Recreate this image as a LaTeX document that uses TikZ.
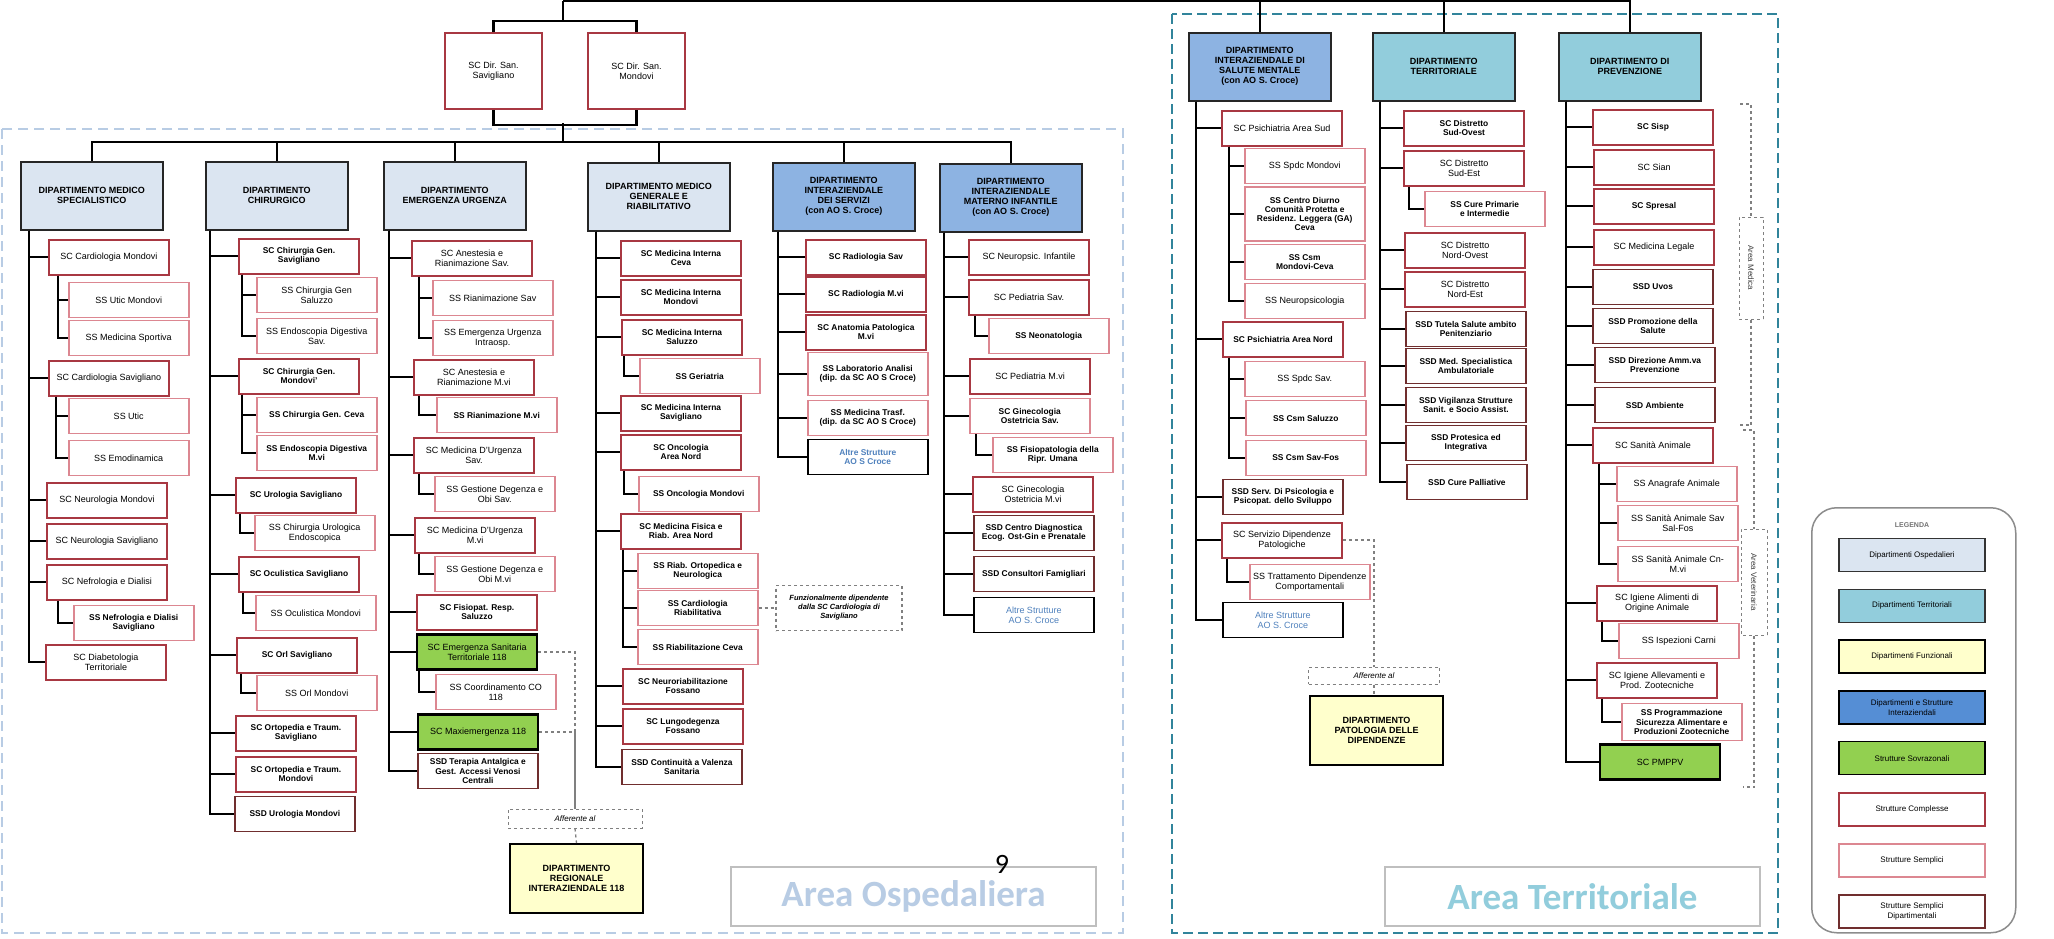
\documentclass[tikz,border=0pt]{standalone}
\usepackage{fontspec}
\usepackage{xcolor}
\setmainfont{Liberation Sans}
\newfontfamily\areafont{Carlito}
\usetikzlibrary{positioning}

\definecolor{scred}{RGB}{168,56,66}
\definecolor{sspink}{RGB}{220,135,145}
\definecolor{ssdbrown}{RGB}{112,46,46}
\definecolor{osp}{RGB}{219,229,241}
\definecolor{terr}{RGB}{146,205,220}
\definecolor{inter}{RGB}{141,179,226}
\definecolor{interleg}{RGB}{85,142,213}
\definecolor{funz}{RGB}{255,255,204}
\definecolor{sovr}{RGB}{146,208,80}
\definecolor{altre}{RGB}{79,129,189}
\definecolor{ospline}{RGB}{184,204,228}
\definecolor{terrline}{RGB}{49,132,155}
\definecolor{dashgray}{RGB}{128,128,128}

\begin{document}
\begin{tikzpicture}[
        x=1pt, y=-1pt,
        cell/.style={
            draw,
            rectangle,
            anchor=west,
            minimum width=120,
            minimum height=35,
            inner sep=2pt,
            align=center,
            fill=white,
            font=\fontsize{9}{10}\selectfont
        },
        sc/.style={cell, draw=scred, line width=2},
        ss/.style={cell, draw=sspink, line width=1.5},
        ssd/.style={cell, draw=ssdbrown, line width=1.8},
        strong/.style={font=\fontsize{8.4}{9.3}\selectfont\bfseries},
        sovrbox/.style={cell, fill=sovr, draw=black, line width=2.2},
        altrebox/.style={cell, draw=black, line width=1.5, text=altre},
        dept/.style={
            draw=black!85,
            rectangle,
            anchor=north west,
            minimum width=142,
            minimum height=68,
            line width=1.5,
            align=center,
            inner sep=2pt,
            fill=osp,
            font=\fontsize{9}{10}\selectfont\bfseries
        },
        funzbox/.style={dept, fill=funz, draw=black, line width=2, minimum width=133, minimum height=69},
        affbox/.style={
            draw=dashgray,
            dashed,
            line width=1,
            rectangle,
            minimum width=134,
            minimum height=19,
            inner sep=1pt,
            font=\fontsize{8}{9}\selectfont\itshape
        },
        notebox/.style={
            draw=dashgray,
            dashed,
            line width=1.3,
            rectangle,
            minimum width=126,
            minimum height=45,
            inner sep=2pt,
            align=center,
            font=\fontsize{7.5}{9}\selectfont\bfseries\itshape
        },
        brklabel/.style={
            draw=dashgray,
            dashed,
            line width=1,
            rectangle,
            minimum width=102,
            minimum height=24,
            text=black!75,
            font=\fontsize{8}{9}\selectfont
        },
        arealabel/.style={
            draw=black!25,
            line width=1.5,
            rectangle,
            minimum height=59,
            font=\areafont\bfseries\fontsize{37}{40}\selectfont
        },
        legitem/.style={
            draw,
            rectangle,
            minimum width=146,
            minimum height=33,
            line width=1.3,
            inner sep=2pt,
            align=center,
            font=\fontsize{8}{9.5}\selectfont
        },
        spine/.style={line width=2.4},
        twig/.style={line width=2},
        afflink/.style={dashgray, dashed, line width=1.3},
        brk/.style={dashgray, dashed, line width=1.2}
    ]
    \fill[white] (0,0) rectangle (2054,938);
    \useasboundingbox (0,0) rectangle (2054,938);

    % area frames
    \draw[ospline, dash pattern=on 10pt off 6pt, line width=2.2] (2,129) rectangle (1123,933);
    \draw[terrline, dash pattern=on 10pt off 5pt, line width=2.8] (1172,14) rectangle (1778,933);

    % direzioni sanitarie
    \node[sc, anchor=north west, minimum width=97, minimum height=76] (dirsav) at (444,32) {SC Dir. San.\\Savigliano};
    \node[sc, minimum width=97, minimum height=76, right=44pt of dirsav] (dirmon) {SC Dir. San.\\Mondovi};
    \coordinate (apex) at (563,1);
    \coordinate (hosp) at (563,142);

    % dipartimenti
    \node[dept] (dms) at (20,161) {DIPARTIMENTO MEDICO\\SPECIALISTICO};
    \node[dept] (dch) at (205,161) {DIPARTIMENTO\\CHIRURGICO};
    \node[dept] (deu) at (383,161) {DIPARTIMENTO\\EMERGENZA URGENZA};
    \node[dept] (dmg) at (587,162) {DIPARTIMENTO MEDICO\\GENERALE E\\RIABILITATIVO};
    \node[dept, fill=inter] (dis) at (772,162) {DIPARTIMENTO\\INTERAZIENDALE\\DEI SERVIZI\\(con AO S. Croce)};
    \node[dept, fill=inter] (dmi) at (939,163) {DIPARTIMENTO\\INTERAZIENDALE\\MATERNO INFANTILE\\(con AO S. Croce)};
    \node[dept, fill=inter] (dsm) at (1188,32) {DIPARTIMENTO\\INTERAZIENDALE DI\\SALUTE MENTALE\\(con AO S. Croce)};
    \node[dept, fill=terr] (dter) at (1372,32) {DIPARTIMENTO\\TERRITORIALE};
    \node[dept, fill=terr] (dprev) at (1558,32) {DIPARTIMENTO DI\\PREVENZIONE};

    % medico specialistico
    \node[sc] (cardmon) at (48,257) {SC Cardiologia Mondovi};
    \node[ss] (uticmon) at (68,300) {SS Utic Mondovi};
    \node[ss] (medsport) at (68,338) {SS Medicina Sportiva};
    \node[sc] (cardsav) at (48,378) {SC Cardiologia Savigliano};
    \node[ss] (utic) at (68,416) {SS Utic};
    \node[ss] (emodin) at (68,458) {SS Emodinamica};
    \node[sc] (neuromon) at (46,500) {SC Neurologia Mondovi};
    \node[sc] (neurosav) at (46,541) {SC Neurologia Savigliano};
    \node[sc] (nefro) at (46,582) {SC Nefrologia e Dialisi};
    \node[ss, strong] (nefrosav) at (73,623) {SS Nefrologia e Dialisi\\Savigliano};
    \node[sc] (diabet) at (45,662) {SC Diabetologia\\Territoriale};

    % chirurgico
    \node[sc, strong] (chgsav) at (238,256) {SC Chirurgia Gen.\\Savigliano};
    \node[ss] (chsal) at (256,295) {SS Chirurgia Gen\\Saluzzo};
    \node[ss] (endsav) at (256,336) {SS Endoscopia Digestiva\\Sav.};
    \node[sc, strong] (chgmon) at (238,376) {SC Chirurgia Gen.\\Mondovi'};
    \node[ss, strong] (chceva) at (256,415) {SS Chirurgia Gen. Ceva};
    \node[ss, strong] (endmvi) at (256,453) {SS Endoscopia Digestiva\\M.vi};
    \node[sc, strong] (urosav) at (235,495) {SC Urologia Savigliano};
    \node[ss] (urendo) at (254,533) {SS Chirurgia Urologica\\Endoscopica};
    \node[sc, strong] (oculsav) at (238,574) {SC Oculistica Savigliano};
    \node[ss] (oculmon) at (255,613) {SS Oculistica Mondovi};
    \node[sc, strong] (orlsav) at (236,655) {SC Orl Savigliano};
    \node[ss] (orlmon) at (256,693) {SS Orl Mondovi};
    \node[sc, strong] (ortsav) at (235,733) {SC Ortopedia e Traum.\\Savigliano};
    \node[sc, strong] (ortmon) at (235,774) {SC Ortopedia e Traum.\\Mondovi};
    \node[ssd, strong] (uromon) at (234,814) {SSD Urologia Mondovi};

    % emergenza urgenza
    \node[sc] (anesav) at (411,258) {SC Anestesia e\\Rianimazione Sav.};
    \node[ss] (rianisav) at (432,298) {SS Rianimazione Sav};
    \node[ss] (emurg) at (432,338) {SS Emergenza Urgenza\\Intraosp.};
    \node[sc] (anemvi) at (413,377) {SC Anestesia e\\Rianimazione M.vi};
    \node[ss, strong] (rianimvi) at (436,415) {SS Rianimazione M.vi};
    \node[sc] (murgsav) at (413,455) {SC Medicina D'Urgenza\\Sav.};
    \node[ss] (gestsav) at (434,494) {SS Gestione Degenza e\\Obi Sav.};
    \node[sc] (murgmvi) at (414,535) {SC Medicina D'Urgenza\\M.vi};
    \node[ss] (gestmvi) at (434,574) {SS Gestione Degenza e\\Obi M.vi};
    \node[sc, strong] (fisiopat) at (416,612) {SC Fisiopat. Resp.\\Saluzzo};
    \node[sovrbox] (emst) at (416,652) {SC Emergenza Sanitaria\\Territoriale 118};
    \node[ss] (coord) at (435,692) {SS Coordinamento CO\\118};
    \node[sovrbox] (maxi) at (417,732) {SC Maxiemergenza 118};
    \node[ssd, strong] (terap) at (417,771) {SSD Terapia Antalgica e\\Gest. Accessi Venosi\\Centrali};
    \node[affbox] (aff118) at (575,818.5) {Afferente al};
    \node[funzbox] (dr118) at (509,843) {DIPARTIMENTO\\REGIONALE\\INTERAZIENDALE 118};

    % medico generale e riabilitativo
    \node[sc, strong] (mice) at (620,258) {SC Medicina Interna\\Ceva};
    \node[sc, strong] (mimon) at (620,297) {SC Medicina Interna\\Mondovi};
    \node[sc, strong] (misal) at (621,337) {SC Medicina Interna\\Saluzzo};
    \node[ss, strong] (geri) at (639,376) {SS Geriatria};
    \node[sc, strong] (misav) at (620,413) {SC Medicina Interna\\Savigliano};
    \node[sc, strong] (onco) at (620,452) {SC Oncologia\\Area Nord};
    \node[ss, strong] (oncomon) at (638,494) {SS Oncologia Mondovi};
    \node[sc, strong] (fisica) at (620,531) {SC Medicina Fisica e\\Riab. Area Nord};
    \node[ss, strong] (riabort) at (637,571) {SS Riab. Ortopedica e\\Neurologica};
    \node[ss, strong] (cardriab) at (637,608) {SS Cardiologia\\Riabilitativa};
    \node[ss, strong] (riabceva) at (637,647) {SS Riabilitazione Ceva};
    \node[sc, strong] (neuroriab) at (622,686) {SC Neuroriabilitazione\\Fossano};
    \node[sc, strong] (lungo) at (622,726) {SC Lungodegenza\\Fossano};
    \node[ssd, strong] (contin) at (621,767) {SSD Continuità a Valenza\\Sanitaria};
    \node[notebox] (funznote) at (839,608) {Funzionalmente dipendente\\dalla SC Cardiologia di\\Savigliano};

    % interaziendale dei servizi
    \node[sc, strong] (radsav) at (805,257) {SC Radiologia Sav};
    \node[sc, strong] (radmvi) at (805,294) {SC Radiologia M.vi};
    \node[sc, strong] (anapat) at (805,332) {SC Anatomia Patologica\\M.vi};
    \node[ss, strong, minimum height=43] (labo) at (807,374) {SS Laboratorio Analisi\\(dip. da SC AO S Croce)};
    \node[ss, strong] (trasf) at (807,418) {SS Medicina Trasf.\\(dip. da SC AO S Croce)};
    \node[altrebox, strong] (altreis) at (807,457) {Altre Strutture\\AO S Croce};

    % materno infantile
    \node[sc] (neuropsi) at (968,257) {SC Neuropsic. Infantile};
    \node[sc] (pedsav) at (968,297) {SC Pediatria Sav.};
    \node[ss, strong] (neonat) at (988,336) {SS Neonatologia};
    \node[sc] (pedmvi) at (969,376) {SC Pediatria M.vi};
    \node[ss, strong] (ginsav) at (969,416) {SC Ginecologia\\Ostetricia Sav.};
    \node[ss, strong] (fisioripr) at (992,455) {SS Fisiopatologia della\\Ripr. Umana};
    \node[sc] (ginmvi) at (972,494) {SC Ginecologia\\Ostetricia M.vi};
    \node[ssd, strong] (ecog) at (973,533) {SSD Centro Diagnostica\\Ecog. Ost-Gin e Prenatale};
    \node[ssd, strong] (consult) at (973,574) {SSD Consultori Famigliari};
    \node[altrebox] (altremi) at (973,615) {Altre Strutture\\AO S. Croce};

    % salute mentale
    \node[sc] (psisud) at (1221,128) {SC Psichiatria Area Sud};
    \node[ss] (spdcmon) at (1244,166) {SS Spdc Mondovi};
    \node[ss, strong, minimum height=54] (diurno) at (1244,214) {SS Centro Diurno\\Comunità Protetta e\\Residenz. Leggera (GA)\\Ceva};
    \node[ss, strong] (csmceva) at (1244,262) {SS Csm\\Mondovi-Ceva};
    \node[ss] (neuropsic) at (1244,301) {SS Neuropsicologia};
    \node[sc, strong] (psinord) at (1222,339) {SC Psichiatria Area Nord};
    \node[ss] (spdcsav) at (1244,379) {SS Spdc Sav.};
    \node[ss, strong] (csmsal) at (1245,418) {SS Csm Saluzzo};
    \node[ss, strong] (csmfos) at (1245,458) {SS Csm Sav-Fos};
    \node[ssd, strong] (psicosvil) at (1222,497) {SSD Serv. Di Psicologia e\\Psicopat. dello Sviluppo};
    \node[sc] (serdip) at (1221,540) {SC Servizio Dipendenze\\Patologiche};
    \node[ss] (tratt) at (1249,582) {SS Trattamento Dipendenze\\Comportamentali};
    \node[altrebox] (altresm) at (1222,620) {Altre Strutture\\AO S. Croce};
    \node[affbox, minimum width=131, minimum height=17] (affdip) at (1374,675.5) {Afferente al};
    \node[funzbox] (dpd) at (1309,695) {DIPARTIMENTO\\PATOLOGIA DELLE\\DIPENDENZE};

    % territoriale
    \node[sc, strong] (sudovest) at (1403,128) {SC Distretto\\Sud-Ovest};
    \node[sc] (sudest) at (1403,168) {SC Distretto\\Sud-Est};
    \node[ss, strong] (cure) at (1424,209) {SS Cure Primarie\\e Intermedie};
    \node[sc] (nordovest) at (1404,250) {SC Distretto\\Nord-Ovest};
    \node[sc] (nordest) at (1404,289) {SC Distretto\\Nord-Est};
    \node[ssd, strong] (tutela) at (1405,329) {SSD Tutela Salute ambito\\Penitenziario};
    \node[ssd, strong] (medspec) at (1405,366) {SSD Med. Specialistica\\Ambulatoriale};
    \node[ssd, strong] (vigil) at (1405,405) {SSD Vigilanza Strutture\\Sanit. e Socio Assist.};
    \node[ssd, strong] (protes) at (1405,443) {SSD Protesica ed\\Integrativa};
    \node[ssd, strong] (pallia) at (1406,482) {SSD Cure Palliative};

    % prevenzione
    \node[sc, strong] (sisp) at (1592,127) {SC Sisp};
    \node[sc] (sian) at (1593,167) {SC Sian};
    \node[sc, strong] (spresal) at (1593,206) {SC Spresal};
    \node[sc] (medleg) at (1593,247) {SC Medicina Legale};
    \node[ssd, strong] (uvos) at (1592,287) {SSD Uvos};
    \node[ssd, strong] (promo) at (1592,326) {SSD Promozione della\\Salute};
    \node[ssd, strong] (direz) at (1594,365) {SSD Direzione Amm.va\\Prevenzione};
    \node[ssd, strong] (ambiente) at (1594,405) {SSD Ambiente};
    \node[sc] (sanan) at (1592,445) {SC Sanità Animale};
    \node[ss] (anagrafe) at (1616,484) {SS Anagrafe Animale};
    \node[ss] (sanfos) at (1617,523) {SS Sanità Animale Sav\\Sal-Fos};
    \node[ss] (sancn) at (1617,564) {SS Sanità Animale Cn-\\M.vi};
    \node[sc] (igalim) at (1596,603) {SC Igiene Alimenti di\\Origine Animale};
    \node[ss] (ispez) at (1618,641) {SS Ispezioni Carni};
    \node[sc] (igall) at (1596,680) {SC Igiene Allevamenti e\\Prod. Zootecniche};
    \node[ss, strong, minimum height=37] (progr) at (1621,722) {SS Programmazione\\Sicurezza Alimentare e\\Produzioni Zootecniche};
    \node[sovrbox] (pmppv) at (1599,762) {SC PMPPV};

    % area brackets
    \node[brklabel, rotate=-90] (amed) at (1751,268) {Area Medica};
    \node[brklabel, rotate=-90, minimum width=106, minimum height=26] (avet) at (1754,582) {Area Veterinaria};
    \draw[brk] (1740,104) -- (1751,104) -- (amed.west);
    \draw[brk] (amed.east) -- (1751,425) -- (1740,425);
    \draw[brk] (1743,430) -- (1754,430) -- (avet.west);
    \draw[brk] (avet.east) -- (1754,787) -- (1743,787);

    % top connectors
    \draw[spine] (apex) -| (dprev.north);
    \draw[spine] (apex) -- ++(0,20);
    \draw[spine] (dirsav.north) -- ++(0,-11) -| (dirmon.north);
    \draw[spine] (dsm.north) -- (dsm.north |- apex);
    \draw[spine] (dter.north) -- (dter.north |- apex);
    \draw[spine] (dirsav.south) -- ++(0,15) -| (dirmon.south);
    \draw[spine] (hosp) -- ++(0,-19);
    \draw[spine] (dms.north) |- (hosp);
    \draw[spine] (dmi.north) |- (hosp);
    \draw[spine] (dch.north) -- (dch.north |- hosp);
    \draw[spine] (deu.north) -- (deu.north |- hosp);
    \draw[spine] (dmg.north) -- (dmg.north |- hosp);
    \draw[spine] (dis.north) -- (dis.north |- hosp);

    % medico specialistico links
    \draw[spine] (dms.south west) ++(9,0) |- (cardmon.west);
    \draw[spine] (dms.south west) ++(9,0) |- (cardsav.west);
    \draw[spine] (dms.south west) ++(9,0) |- (neuromon.west);
    \draw[spine] (dms.south west) ++(9,0) |- (neurosav.west);
    \draw[spine] (dms.south west) ++(9,0) |- (nefro.west);
    \draw[spine] (dms.south west) ++(9,0) |- (diabet.west);
    \draw[twig] (cardmon.south west) ++(10,0) |- (uticmon.west);
    \draw[twig] (cardmon.south west) ++(10,0) |- (medsport.west);
    \draw[twig] (cardsav.south west) ++(8,0) |- (utic.west);
    \draw[twig] (cardsav.south west) ++(8,0) |- (emodin.west);
    \draw[twig] (nefro.south west) ++(12,0) |- (nefrosav.west);

    % chirurgico links
    \draw[spine] (dch.south west) ++(5,0) |- (chgsav.west);
    \draw[spine] (dch.south west) ++(5,0) |- (chgmon.west);
    \draw[spine] (dch.south west) ++(5,0) |- (urosav.west);
    \draw[spine] (dch.south west) ++(5,0) |- (oculsav.west);
    \draw[spine] (dch.south west) ++(5,0) |- (orlsav.west);
    \draw[spine] (dch.south west) ++(5,0) |- (ortsav.west);
    \draw[spine] (dch.south west) ++(5,0) |- (ortmon.west);
    \draw[spine] (dch.south west) ++(5,0) |- (uromon.west);
    \draw[twig] (chgsav.south west) ++(4,0) |- (chsal.west);
    \draw[twig] (chgsav.south west) ++(4,0) |- (endsav.west);
    \draw[twig] (chgmon.south west) ++(4,0) |- (chceva.west);
    \draw[twig] (chgmon.south west) ++(4,0) |- (endmvi.west);
    \draw[twig] (urosav.south west) ++(5,0) |- (urendo.west);
    \draw[twig] (oculsav.south west) ++(5,0) |- (oculmon.west);
    \draw[twig] (orlsav.south west) ++(5,0) |- (orlmon.west);

    % emergenza urgenza links
    \draw[spine] (deu.south west) ++(6,0) |- (anesav.west);
    \draw[spine] (deu.south west) ++(6,0) |- (anemvi.west);
    \draw[spine] (deu.south west) ++(6,0) |- (murgsav.west);
    \draw[spine] (deu.south west) ++(6,0) |- (murgmvi.west);
    \draw[spine] (deu.south west) ++(6,0) |- (fisiopat.west);
    \draw[spine] (deu.south west) ++(6,0) |- (emst.west);
    \draw[spine] (deu.south west) ++(6,0) |- (maxi.west);
    \draw[spine] (deu.south west) ++(6,0) |- (terap.west);
    \draw[twig] (anesav.south west) ++(8,0) |- (rianisav.west);
    \draw[twig] (anesav.south west) ++(8,0) |- (emurg.west);
    \draw[twig] (anemvi.south west) ++(6,0) |- (rianimvi.west);
    \draw[twig] (murgsav.south west) ++(6,0) |- (gestsav.west);
    \draw[twig] (murgmvi.south west) ++(5,0) |- (gestmvi.west);
    \draw[twig] (emst.south west) ++(3,0) |- (coord.west);
    \draw[afflink] (emst.east) -| (aff118.north);
    \draw[afflink] (maxi.east) -| (aff118.north);
    \draw[afflink] (aff118.south) -- (dr118.north);

    % medico generale links
    \draw[spine] (dmg.south west) ++(9,0) |- (mice.west);
    \draw[spine] (dmg.south west) ++(9,0) |- (mimon.west);
    \draw[spine] (dmg.south west) ++(9,0) |- (misal.west);
    \draw[spine] (dmg.south west) ++(9,0) |- (misav.west);
    \draw[spine] (dmg.south west) ++(9,0) |- (onco.west);
    \draw[spine] (dmg.south west) ++(9,0) |- (fisica.west);
    \draw[spine] (dmg.south west) ++(9,0) |- (neuroriab.west);
    \draw[spine] (dmg.south west) ++(9,0) |- (lungo.west);
    \draw[spine] (dmg.south west) ++(9,0) |- (contin.west);
    \draw[twig] (misal.south west) ++(3,0) |- (geri.west);
    \draw[twig] (onco.south west) ++(4,0) |- (oncomon.west);
    \draw[twig] (fisica.south west) ++(3,0) |- (riabort.west);
    \draw[twig] (fisica.south west) ++(3,0) |- (cardriab.west);
    \draw[twig] (fisica.south west) ++(3,0) |- (riabceva.west);
    \draw[afflink] (cardriab.east) -- (funznote.west);

    % servizi links
    \draw[spine] (dis.south west) ++(6,0) |- (radsav.west);
    \draw[spine] (dis.south west) ++(6,0) |- (radmvi.west);
    \draw[spine] (dis.south west) ++(6,0) |- (anapat.west);
    \draw[spine] (dis.south west) ++(6,0) |- (labo.west);
    \draw[spine] (dis.south west) ++(6,0) |- (trasf.west);
    \draw[spine] (dis.south west) ++(6,0) |- (altreis.west);

    % materno infantile links
    \draw[spine] (dmi.south west) ++(5,0) |- (neuropsi.west);
    \draw[spine] (dmi.south west) ++(5,0) |- (pedsav.west);
    \draw[spine] (dmi.south west) ++(5,0) |- (pedmvi.west);
    \draw[spine] (dmi.south west) ++(5,0) |- (ginsav.west);
    \draw[spine] (dmi.south west) ++(5,0) |- (ginmvi.west);
    \draw[spine] (dmi.south west) ++(5,0) |- (ecog.west);
    \draw[spine] (dmi.south west) ++(5,0) |- (consult.west);
    \draw[spine] (dmi.south west) ++(5,0) |- (altremi.west);
    \draw[twig] (pedsav.south west) ++(7,0) |- (neonat.west);
    \draw[twig] (ginsav.south west) ++(7,0) |- (fisioripr.west);

    % salute mentale links
    \draw[spine] (dsm.south west) ++(8,0) |- (psisud.west);
    \draw[spine] (dsm.south west) ++(8,0) |- (psinord.west);
    \draw[spine] (dsm.south west) ++(8,0) |- (psicosvil.west);
    \draw[spine] (dsm.south west) ++(8,0) |- (serdip.west);
    \draw[spine] (dsm.south west) ++(8,0) |- (altresm.west);
    \draw[twig] (psisud.south west) ++(8,0) |- (spdcmon.west);
    \draw[twig] (psisud.south west) ++(8,0) |- (diurno.west);
    \draw[twig] (psisud.south west) ++(8,0) |- (csmceva.west);
    \draw[twig] (psisud.south west) ++(8,0) |- (neuropsic.west);
    \draw[twig] (psinord.south west) ++(7,0) |- (spdcsav.west);
    \draw[twig] (psinord.south west) ++(7,0) |- (csmsal.west);
    \draw[twig] (psinord.south west) ++(7,0) |- (csmfos.west);
    \draw[twig] (serdip.south west) ++(6,0) |- (tratt.west);
    \draw[afflink] (serdip.east) -| (affdip.north);
    \draw[afflink] (affdip.south) -- (affdip.south |- dpd.north);

    % territoriale links
    \draw[spine] (dter.south west) ++(8,0) |- (sudovest.west);
    \draw[spine] (dter.south west) ++(8,0) |- (sudest.west);
    \draw[spine] (dter.south west) ++(8,0) |- (nordovest.west);
    \draw[spine] (dter.south west) ++(8,0) |- (nordest.west);
    \draw[spine] (dter.south west) ++(8,0) |- (tutela.west);
    \draw[spine] (dter.south west) ++(8,0) |- (medspec.west);
    \draw[spine] (dter.south west) ++(8,0) |- (vigil.west);
    \draw[spine] (dter.south west) ++(8,0) |- (protes.west);
    \draw[spine] (dter.south west) ++(8,0) |- (pallia.west);
    \draw[twig] (sudest.south west) ++(6,0) |- (cure.west);

    % prevenzione links
    \draw[spine] (dprev.south west) ++(8,0) |- (sisp.west);
    \draw[spine] (dprev.south west) ++(8,0) |- (sian.west);
    \draw[spine] (dprev.south west) ++(8,0) |- (spresal.west);
    \draw[spine] (dprev.south west) ++(8,0) |- (medleg.west);
    \draw[spine] (dprev.south west) ++(8,0) |- (uvos.west);
    \draw[spine] (dprev.south west) ++(8,0) |- (promo.west);
    \draw[spine] (dprev.south west) ++(8,0) |- (direz.west);
    \draw[spine] (dprev.south west) ++(8,0) |- (ambiente.west);
    \draw[spine] (dprev.south west) ++(8,0) |- (sanan.west);
    \draw[spine] (dprev.south west) ++(8,0) |- (igalim.west);
    \draw[spine] (dprev.south west) ++(8,0) |- (igall.west);
    \draw[spine] (dprev.south west) ++(8,0) |- (pmppv.west);
    \draw[twig] (sanan.south west) ++(7,0) |- (anagrafe.west);
    \draw[twig] (sanan.south west) ++(7,0) |- (sanfos.west);
    \draw[twig] (sanan.south west) ++(7,0) |- (sancn.west);
    \draw[twig] (igalim.south west) ++(6,0) |- (ispez.west);
    \draw[twig] (igall.south west) ++(6,0) |- (progr.west);

    % area labels and page number
    \node[arealabel, text=ospline, minimum width=365] (areaosp) at (913.5,896.5) {Area Ospedaliera};
    \node[arealabel, text=terr, minimum width=375] (areaterr) at (1572.5,896.5) {Area Territoriale};
    \node[font=\areafont\fontsize{28}{28}\selectfont] (pagenum) at (1002,864) {9};

    % legenda
    \node[draw=black!45, line width=1.5, rounded corners=25, minimum width=204, minimum height=425, anchor=north west] (legenda) at (1811,507) {};
    \node[text=black!55, font=\fontsize{7}{8}\selectfont\bfseries] (legtitle) at (1912,525) {LEGENDA};
    \node[legitem, fill=osp, draw=black!80] (legosp) at (1912,555) {Dipartimenti Ospedalieri};
    \node[legitem, fill=terr, draw=black!80, below=16.5pt of legosp] (legterr) {Dipartimenti Territoriali};
    \node[legitem, fill=funz, draw=black, below=16.5pt of legterr] (legfunz) {Dipartimenti Funzionali};
    \node[legitem, fill=interleg, draw=black, below=16.5pt of legfunz] (leginter) {Dipartimenti e Strutture\\Interaziendali};
    \node[legitem, fill=sovr, draw=black, below=16.5pt of leginter] (legsovr) {Strutture Sovrazonali};
    \node[legitem, draw=scred, line width=2, below=16.5pt of legsovr] (legsc) {Strutture Complesse};
    \node[legitem, draw=sspink, line width=1.5, below=16.5pt of legsc] (legss) {Strutture Semplici};
    \node[legitem, draw=ssdbrown, line width=1.5, below=16.5pt of legss] (legssd) {Strutture Semplici\\Dipartimentali};
\end{tikzpicture}
\end{document}
